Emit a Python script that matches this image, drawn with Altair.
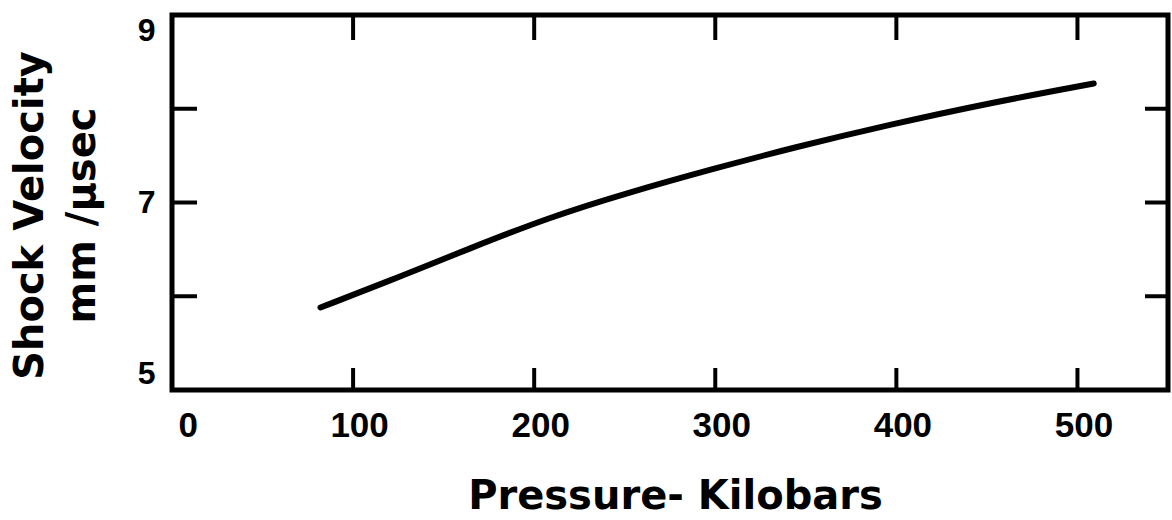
import altair as alt
import pandas as pd

# Curve
pressure = [82, 126, 163, 208, 251, 299, 344, 396, 451, 509]
velocity = [5.88, 6.21, 6.50, 6.84, 7.10, 7.36, 7.59, 7.83, 8.06, 8.27]

x_ticks = [100, 200, 300, 400, 500]
x_labels = [0, 100, 200, 300, 400, 500]
y_ticks = [6, 7, 8]
y_labels = [5, 7, 9]

df = pd.DataFrame({"p": pressure, "v": velocity})
xt = pd.DataFrame({"t": x_ticks})
yt = pd.DataFrame({"t": y_ticks})

W, H = 996, 375
FONT = "DejaVu Sans"
LFONT = "Liberation Sans"

xscale = alt.Scale(domain=[0, 550], nice=False, zero=False)
yscale = alt.Scale(domain=[5, 9], nice=False, zero=False)

xaxis = alt.Axis(values=x_labels, format="d", domain=False, ticks=False, grid=False,
                 labelFontSize=35, labelFont=LFONT, labelFontWeight="bold",
                 labelPadding=18, labelOffset=6, labelColor="black",
                 title="Pressure- Kilobars", titleFont=FONT, titleFontWeight="bold",
                 titleFontSize=40, titleColor="black", titleX=503, titleY=118,
                 titleAlign="center", titleBaseline="alphabetic")
yaxis = alt.Axis(values=y_labels, format="d", domain=False, ticks=False, grid=False,
                 labelFontSize=32, labelFont=LFONT, labelFontWeight="bold",
                 labelPadding=17, labelFlush=True, labelColor="black",
                 title=["Shock Velocity", "mm /\u03bcsec"], titleFont=FONT,
                 titleFontWeight="bold", titleFontSize=40, titleColor="black",
                 titleAngle=-90, titleX=-142, titleY=200, titleAlign="center",
                 titleBaseline="middle", titleLineHeight=52)

line = alt.Chart(df).mark_line(color="black", strokeWidth=6, strokeCap="round",
                               interpolate="basis").encode(
    x=alt.X("p:Q", scale=xscale, axis=xaxis),
    y=alt.Y("v:Q", scale=yscale, axis=yaxis),
)

bottom_ticks = alt.Chart(xt).mark_rule(color="black", strokeWidth=4).encode(
    x=alt.X("t:Q", scale=xscale), y=alt.value(H), y2=alt.value(H - 22))
top_ticks = alt.Chart(xt).mark_rule(color="black", strokeWidth=4).encode(
    x=alt.X("t:Q", scale=xscale), y=alt.value(0), y2=alt.value(25))
left_ticks = alt.Chart(yt).mark_rule(color="black", strokeWidth=4).encode(
    y=alt.Y("t:Q", scale=yscale), x=alt.value(0), x2=alt.value(25))
right_ticks = alt.Chart(yt).mark_rule(color="black", strokeWidth=4).encode(
    y=alt.Y("t:Q", scale=yscale), x=alt.value(W), x2=alt.value(W - 23))

chart = alt.layer(line, bottom_ticks, top_ticks, left_ticks, right_ticks).properties(
    width=W, height=H,
    autosize=alt.AutoSizeParams(type="none"),
    padding={"left": 172, "top": 15, "right": 4, "bottom": 130},
    background="white",
).configure_view(stroke="black", strokeWidth=5)

chart.save("out.html", embed_options={"renderer": "svg", "actions": False})
